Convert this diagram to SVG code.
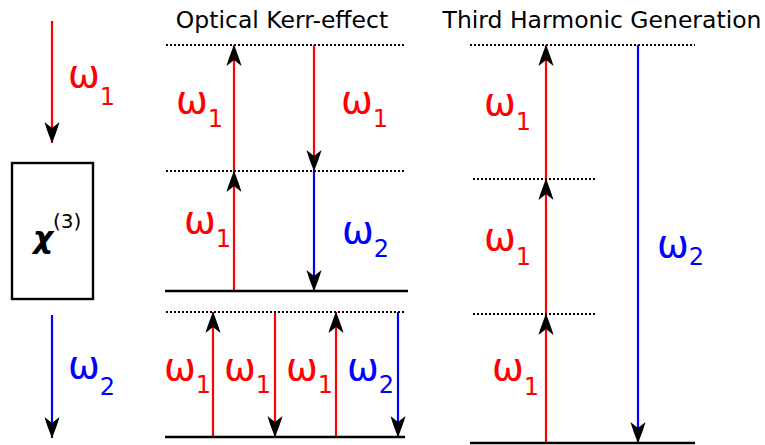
<svg xmlns="http://www.w3.org/2000/svg" width="765" height="445" viewBox="0 0 765 445">
<style>
.r{stroke:#ff0000;stroke-width:2.2;fill:none}
.b{stroke:#0000ff;stroke-width:2.2;fill:none}
.lvl{stroke:#000;stroke-width:2.6;fill:none}
.dot{stroke:#000;stroke-width:2;stroke-dasharray:2 2;fill:none}
.w{font-family:"DejaVu Sans",sans-serif;font-size:38px}
.s{font-size:24px}
.red{fill:#ff0000}
.blue{fill:#0000ff}
.t{font-family:"DejaVu Sans",sans-serif;font-size:23.5px;fill:#000}
</style>
<defs>
<marker id="ah" markerUnits="userSpaceOnUse" markerWidth="24" markerHeight="18" viewBox="-22 -9 24 18" refX="0" refY="0" orient="auto">
<path d="M0,0 C-6,-2.5 -14,-5.5 -21,-7.5 L-15,0 L-21,7.5 C-14,5.5 -6,2.5 0,0 Z" fill="#000"/>
</marker>
</defs>
<g id="connectors">
<line class="r" x1="52" y1="21" x2="52" y2="143" marker-end="url(#ah)"/>
<line class="b" x1="52" y1="315" x2="52" y2="438" marker-end="url(#ah)"/>
<line class="r" x1="234" y1="291" x2="234" y2="171" marker-end="url(#ah)"/>
<line class="r" x1="234" y1="171" x2="234" y2="45" marker-end="url(#ah)"/>
<line class="r" x1="314" y1="45" x2="314" y2="171" marker-end="url(#ah)"/>
<line class="b" x1="314" y1="171" x2="314" y2="291" marker-end="url(#ah)"/>
<line class="r" x1="213" y1="437" x2="213" y2="312" marker-end="url(#ah)"/>
<line class="r" x1="275" y1="312" x2="275" y2="437" marker-end="url(#ah)"/>
<line class="r" x1="336" y1="437" x2="336" y2="312" marker-end="url(#ah)"/>
<line class="b" x1="398" y1="312" x2="398" y2="437" marker-end="url(#ah)"/>
<line class="r" x1="546" y1="443" x2="546" y2="314" marker-end="url(#ah)"/>
<line class="r" x1="546" y1="314" x2="546" y2="179" marker-end="url(#ah)"/>
<line class="r" x1="546" y1="179" x2="546" y2="45" marker-end="url(#ah)"/>
<line class="b" x1="638" y1="45" x2="638" y2="443" marker-end="url(#ah)"/>
</g>
<g id="chi-box">
<rect x="12" y="163" width="81" height="136" fill="#fff" stroke="#000" stroke-width="2.4"/>
<text x="33" y="248" font-family="DejaVu Sans,sans-serif" font-size="31" font-weight="bold" font-style="italic">χ<tspan dy="-20" font-size="20" font-weight="normal" font-style="normal">(3)</tspan></text>
</g>
<g id="left-labels">
<text class="w red" x="68" y="87">ω<tspan class="s" dy="18">1</tspan></text>
<text class="w blue" x="68" y="378">ω<tspan class="s" dy="17">2</tspan></text>
</g>
<g id="kerr">
<text class="t" x="282" y="28" text-anchor="middle">Optical Kerr-effect</text>
<line class="dot" x1="166" y1="45" x2="404" y2="45"/>
<line class="dot" x1="166" y1="171" x2="404" y2="171"/>
<line class="lvl" x1="165" y1="291" x2="408" y2="291"/>
<line class="dot" x1="166" y1="312" x2="404" y2="312"/>
<line class="lvl" x1="165" y1="437" x2="405" y2="437"/>
<text class="w red" x="176" y="113">ω<tspan class="s" dy="14">1</tspan></text>
<text class="w red" x="341" y="113">ω<tspan class="s" dy="14">1</tspan></text>
<text class="w red" x="184" y="233">ω<tspan class="s" dy="14">1</tspan></text>
<text class="w blue" x="342" y="243">ω<tspan class="s" dy="14">2</tspan></text>
<text class="w red" x="164" y="380">ω<tspan class="s" dy="13">1</tspan></text>
<text class="w red" x="224" y="380">ω<tspan class="s" dy="13">1</tspan></text>
<text class="w red" x="286" y="380">ω<tspan class="s" dy="13">1</tspan></text>
<text class="w blue" x="347" y="380">ω<tspan class="s" dy="13">2</tspan></text>
</g>
<g id="thg">
<text class="t" x="602" y="28" text-anchor="middle">Third Harmonic Generation</text>
<line class="dot" x1="470" y1="45" x2="695" y2="45"/>
<line class="dot" x1="473" y1="179" x2="595" y2="179"/>
<line class="dot" x1="473" y1="314" x2="595" y2="314"/>
<line class="lvl" x1="470" y1="443" x2="695" y2="443"/>
<text class="w red" x="484" y="115">ω<tspan class="s" dy="15">1</tspan></text>
<text class="w red" x="484" y="250">ω<tspan class="s" dy="15">1</tspan></text>
<text class="w red" x="492" y="380">ω<tspan class="s" dy="15">1</tspan></text>
<text class="w blue" x="657" y="257">ω<tspan class="s" dy="8">2</tspan></text>
</g>
</svg>
